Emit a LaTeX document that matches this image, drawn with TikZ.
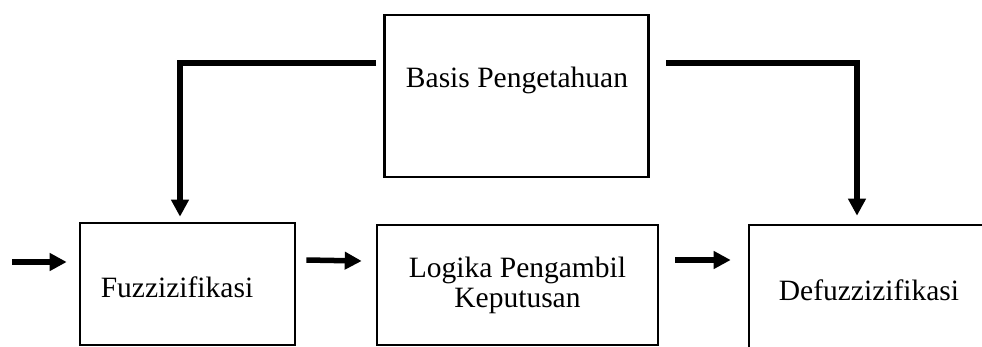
\documentclass[tikz,border=0pt]{standalone}
\usepackage{fontspec}
\setmainfont{Liberation Serif}
\usetikzlibrary{arrows.meta,calc}
\begin{document}
\begin{tikzpicture}[x=1pt,y=-1pt,
  blok/.style={draw=black,line width=2.6pt,inner sep=0pt,
    font=\fontsize{29.5}{30}\selectfont,align=center},
  teks/.style={font=\fontsize{29.5}{30}\selectfont,align=center,inner sep=0pt},
  flow/.style={line width=5.5pt,-{Triangle[length=17pt,width=17pt]}}]
  \clip (0,0) rectangle (982,347);
  % knowledge base at the top
  \node[blok,minimum width=264pt,minimum height=162pt] (basis) at (516.5,96) {};
  \node[teks] (basistxt) at (517,80) {Basis Pengetahuan};
  % processing chain
  \node[blok,minimum width=215pt,minimum height=122pt] (fuzz) at (187.5,284) {};
  \node[teks] (fuzztxt) at (177,287) {Fuzzizifikasi};
  \node[blok,minimum width=281pt,minimum height=120pt] (logika) at (517.5,285) {Logika Pengambil\\Keputusan};
  \node[blok,minimum width=240pt,minimum height=130pt] (defuzz) at (869,290) {Defuzzizifikasi};
  % connector ends
  \coordinate (masuk) at (12,262);
  \coordinate (kiri) at (376,63);
  \coordinate (kanan) at (666,63);
  % arrows
  \draw[flow] (masuk) -- ([shift={(-12pt,22pt)}]fuzz.west);
  \draw[flow] ([shift={(10pt,24pt)}]fuzz.east) -- ([shift={(-14pt,24pt)}]logika.west);
  \draw[flow] ([shift={(16pt,25pt)}]logika.east) -- ([shift={(-17pt,30pt)}]defuzz.west);
  \draw[flow,line cap=butt] (kiri) -| ([shift={(-7.5pt,5pt)}]fuzz.north);
  \draw[flow,line cap=butt] (kanan) -| ([shift={(-12pt,8pt)}]defuzz.north);
\end{tikzpicture}
\end{document}
